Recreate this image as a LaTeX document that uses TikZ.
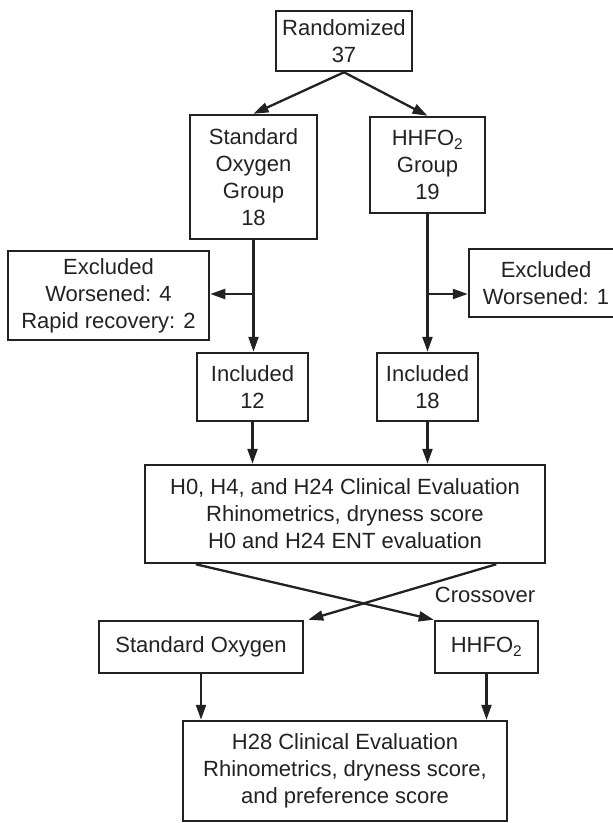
\documentclass[tikz,border=0pt]{standalone}
\usepackage{fontspec}
\setmainfont{Liberation Sans}
\usetikzlibrary{arrows.meta}
\definecolor{ink}{HTML}{222222}

\begin{document}
\begin{tikzpicture}[x=1pt, y=-1pt, >={Triangle[length=15pt,width=10pt]},
  box/.style={draw=ink, text=ink, line width=2.5pt, align=center, inner sep=0pt,
    font=\fontsize{22}{27}\selectfont},
  link/.style={->, draw=ink, line width=2.3pt}]
  % Study flow chart
  \useasboundingbox (0,0) rectangle (613,823);

  % Top of the chart
  \node[box, minimum width=136pt, minimum height=60pt] (rand) at (344,41) {Randomized\\37};
  \node[box, minimum width=127pt, minimum height=124pt] (stdgrp) at (253.5,177) {Standard\\Oxygen\\Group\\18};
  \node[box, minimum width=115pt, minimum height=96pt] (hhfgrp) at (427.5,165) {HHFO\textsubscript{2}\\Group\\19};

  % Exclusions
  \node[box, minimum width=201pt, minimum height=89pt] (exl) at (108.5,295.5) {Excluded\\Worsened: 4\\Rapid recovery: 2};
  \node[box, minimum width=154pt, minimum height=68pt] (exr) at (546,283) {Excluded\\Worsened: 1};

  % Included
  \node[box, minimum width=111pt, minimum height=68pt] (inc12) at (252.5,387) {Included\\12};
  \node[box, minimum width=101pt, minimum height=68pt] (inc18) at (427.5,387) {Included\\18};

  % First evaluation
  \node[box, minimum width=400pt, minimum height=98pt] (eval) at (345,514) {H0, H4, and H24 Clinical Evaluation\\Rhinometrics, dryness score\\H0 and H24 ENT evaluation};

  % After crossover
  \node[box, minimum width=204pt, minimum height=52pt] (std2) at (201,647) {Standard Oxygen};
  \node[box, minimum width=103pt, minimum height=52pt] (hhf2) at (486.5,647) {HHFO\textsubscript{2}};
  \node[box, minimum width=324pt, minimum height=100pt] (h28) at (345,771) {H28 Clinical Evaluation\\Rhinometrics, dryness score,\\and preference score};
  \node[text=ink, font=\fontsize{22}{27}\selectfont] (cross) at (485,595) {Crossover};

  % Branch points
  \coordinate (lsplit) at (253.5,294);
  \coordinate (rsplit) at (427.5,294);
  \coordinate (xl) at ([xshift=52pt]eval.south west);
  \coordinate (xr) at ([xshift=-50pt]eval.south east);

  % Arrows
  \draw[link] (rand.south) -- (stdgrp.north);
  \draw[link] (rand.south) -- (hhfgrp.north);
  \draw[link] (stdgrp.south) -- (inc12.north -| stdgrp.south);
  \draw[link] (hhfgrp.south) -- (inc18.north);
  \draw[link] (lsplit) -- (lsplit -| exl.east);
  \draw[link] (rsplit) -- (rsplit -| exr.west);
  \draw[link] (inc12.south) -- (inc12.south |- eval.north);
  \draw[link] (inc18.south) -- (inc18.south |- eval.north);
  \draw[link] (xl) -- (hhf2.north west);
  \draw[link] (xr) -- ([xshift=4pt]std2.north east);
  \draw[link] (std2.south) -- (std2.south |- h28.north);
  \draw[link] (hhf2.south) -- (hhf2.south |- h28.north);
\end{tikzpicture}
\end{document}
